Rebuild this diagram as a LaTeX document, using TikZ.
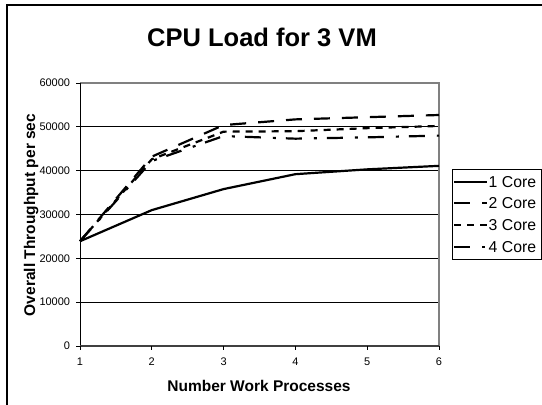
\documentclass[tikz,border=0pt]{standalone}
\usepackage{fontspec}
\setmainfont{Liberation Sans}
\begin{document}
\begin{tikzpicture}[x=1pt,y=-1pt,
  ticklabel/.style={font=\fontsize{11}{13}\selectfont, inner sep=0pt},
  axistitle/.style={font=\fontsize{15.5}{18}\selectfont\bfseries, inner sep=0pt},
  legendtext/.style={font=\fontsize{15.8}{18}\selectfont, inner sep=0pt, anchor=base west},
  gridline/.style={black, line width=0.9pt},
  series/.style={line width=2.2pt, black},
  coreone/.style={series},
  coretwo/.style={series, dash pattern=on 16pt off 12pt},
  corethree/.style={series, dash pattern=on 7pt off 6pt},
  corefour/.style={series, dash pattern=on 16pt off 12pt on 3pt off 10pt},
]
\useasboundingbox (0,0) rectangle (542,405);
\clip (0,0) rectangle (542,405);

% chart frame
\draw[line width=1.6pt] (7,5) rectangle (620,470);

% chart title
\node[font=\fontsize{25.5}{30}\selectfont\bfseries, anchor=base, inner sep=0pt] (title) at (262,46) {CPU Load for 3 VM};

% plot area: x = work processes - 1, y = throughput in thousands
\begin{scope}[shift={(80,346)}, x=71.8pt, y=4.38333pt]
  \foreach \v in {10,20,30,40,50}
    \draw[gridline] (0,\v) -- (5,\v);
  \draw[gray, line width=1.2pt] (0,60) -- (5,60) -- (5,0);
  \draw[black, line width=1pt] (0,0) -- (0,60);
  \draw[black!75, line width=1.6pt] (0,0) -- (5,0);

  % value axis ticks and labels
  \foreach \v/\lab in {0/0,10/10000,20/20000,30/30000,40/40000,50/50000,60/60000}
    \draw[line width=0.8pt] (0,\v) -- ++(-4pt,0) node[ticklabel, anchor=east, xshift=-5.5pt] (yt\v) {\lab};

  % category axis ticks and labels
  \foreach \i in {1,...,6}
    \draw[line width=0.8pt] ({\i-1},0) -- ++(0,-4pt) node[ticklabel, anchor=north, yshift=-7.5pt] (xt\i) {\i};

  % data series
  \draw[coreone]   (0,23.9) -- (1,31.0) -- (2,35.8) -- (3,39.2) -- (4,40.3) -- (5,41.1);
  \draw[coretwo]   (0,23.9) -- (1,43.2) -- (2,50.4) -- (3,51.7) -- (4,52.2) -- (5,52.7);
  \draw[corethree] (0,23.9) -- (1,42.6) -- (2,48.9) -- (3,49.0) -- (4,49.7) -- (5,50.2);
  \draw[corefour]  (0,23.9) -- (1,42.2) -- (2,47.9) -- (3,47.3) -- (4,47.6) -- (5,48.0);
\end{scope}

% axis titles
\node[axistitle, anchor=base] (xtitle) at (259,391.5) {Number Work Processes};
\node[axistitle, rotate=90, anchor=base] (ytitle) at (35,215) {Overall Throughput per sec};

% legend
\draw[line width=1pt] (452,169.5) rectangle (541,259);
\draw[coreone]   (454,181.7) -- (487,181.7);
\draw[coretwo]   (454,203.3) -- (487,203.3);
\draw[corethree] (454,225.0) -- (487,225.0);
\draw[corefour]  (454,247.3) -- (487,247.3);
\node[legendtext] (leg1) at (488.5,187.3) {1 Core};
\node[legendtext] (leg2) at (488.5,208.9) {2 Core};
\node[legendtext] (leg3) at (488.5,230.6) {3 Core};
\node[legendtext] (leg4) at (488.5,252.9) {4 Core};
\end{tikzpicture}
\end{document}
